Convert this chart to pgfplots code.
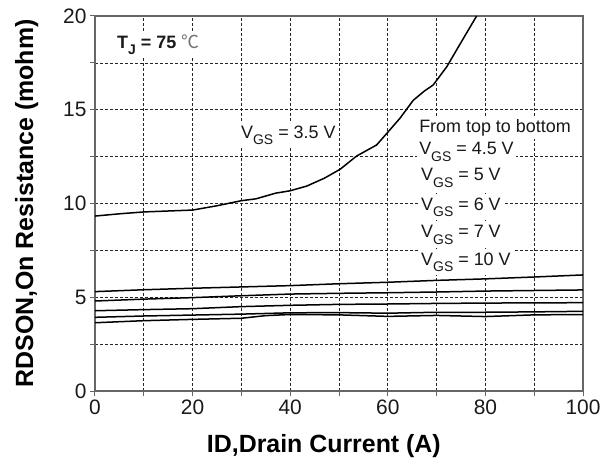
\documentclass[border=0pt]{standalone}
\usepackage{pgfplots}
\pgfplotsset{compat=1.18}
\usepackage{fontspec}
\setmainfont{Liberation Sans}
\newfontfamily\cjk{Noto Sans CJK SC}

% V_GS with a lowered, smaller subscript
\newcommand{\vgs}{V\raisebox{-6.5bp}{\fontsize{14}{14}\selectfont GS}}

\tikzset{
  annot/.style={fill=white, inner xsep=2bp, inner ysep=3.5bp, anchor=base west,
                font=\fontsize{18}{18}\selectfont, text=black!90},
  curve/.style={black, line width=1.5bp, mark=none},
}

\begin{document}
\begin{tikzpicture}
\path[use as bounding box] (-95bp,-76bp) rectangle (520bp,391bp);
\begin{axis}[
  scale only axis, width=488bp, height=375bp,
  xmin=0, xmax=100, ymin=0, ymax=20,
  xtick={0,20,...,100}, ytick={0,5,...,20},
  minor x tick num=1, minor y tick num=1,
  grid=both,
  grid style={black!85, line width=0.7bp, dash pattern=on 3bp off 2bp},
  minor grid style={black!85, line width=0.7bp, dash pattern=on 3bp off 2bp},
  axis line style={black!60, line width=1.2bp},
  tick style={black!60, line width=1bp},
  tick align=outside, major tick length=5bp, minor tick length=5bp,
  xtick pos=bottom, ytick pos=left,
  /pgf/number format/assume math mode=true,
  tick label style={font=\fontsize{21}{21}\selectfont, text=black!90},
  xlabel={ID,Drain Current (A)},
  ylabel={RDSON,On Resistance (mohm)},
  label style={font=\bfseries\fontsize{25}{25}\selectfont},
  xlabel style={at={(axis description cs:0.469,-0.1653)}, anchor=base},
  ylabel style={at={(axis description cs:-0.127,0.5)}, anchor=base},
]

% V_GS = 3.5 V
\addplot[curve] coordinates {
  (0,9.33) (5,9.45) (10,9.55) (15,9.6) (20,9.65) (25,9.88) (30,10.15)
  (33,10.25) (37,10.55) (40,10.68) (43.4,10.93) (47,11.35) (50.2,11.82)
  (53.6,12.53) (57.7,13.12) (60.1,13.83) (62.5,14.55) (65.2,15.5)
  (67.5,16.0) (69.3,16.32) (72.1,17.3) (74.8,18.5) (78.2,20.0)
};
% V_GS = 4.5 V
\addplot[curve] coordinates {
  (0,5.3) (10,5.4) (20,5.48) (30,5.55) (40,5.62) (50,5.72) (60,5.8)
  (70,5.9) (80,5.98) (90,6.08) (100,6.19)
};
% V_GS = 5 V
\addplot[curve] coordinates {
  (0,4.8) (10,4.9) (20,4.98) (30,5.08) (40,5.17) (50,5.21) (60,5.24)
  (70,5.28) (80,5.33) (90,5.36) (100,5.39)
};
% V_GS = 6 V
\addplot[curve] coordinates {
  (0,4.28) (10,4.34) (20,4.39) (30,4.5) (40,4.57) (50,4.62) (60,4.64)
  (70,4.67) (80,4.69) (90,4.7) (100,4.71)
};
% V_GS = 7 V
\addplot[curve] coordinates {
  (0,3.93) (10,4.0) (20,4.05) (30,4.1) (40,4.17) (50,4.18) (60,4.15)
  (70,4.2) (80,4.2) (90,4.22) (100,4.25)
};
% V_GS = 10 V
\addplot[curve] coordinates {
  (0,3.64) (10,3.75) (20,3.82) (30,3.88) (35,4.02) (40,4.08) (50,4.06)
  (60,3.98) (70,4.03) (80,3.97) (90,4.06) (100,4.08)
};

\node[annot, font=\bfseries\fontsize{18}{18}\selectfont] at (axis cs:4.1,18.29)
  {T\raisebox{-6bp}{\fontsize{14}{14}\selectfont J} = 75 {\cjk\mdseries\color{black!55}℃}};
\node[annot] at (axis cs:29.5,13.49) {\vgs{} = 3.5 V};
\node[annot] at (axis cs:66.0,13.81) {From top to bottom};
\node[annot] at (axis cs:66.0,12.59) {\vgs{} = 4.5 V};
\node[annot] at (axis cs:66.4,11.2) {\vgs{} = 5 V};
\node[annot] at (axis cs:66.4,9.65) {\vgs{} = 6 V};
\node[annot] at (axis cs:66.4,8.16) {\vgs{} = 7 V};
\node[annot] at (axis cs:66.4,6.72) {\vgs{} = 10 V};
\end{axis}
\end{tikzpicture}
\end{document}
